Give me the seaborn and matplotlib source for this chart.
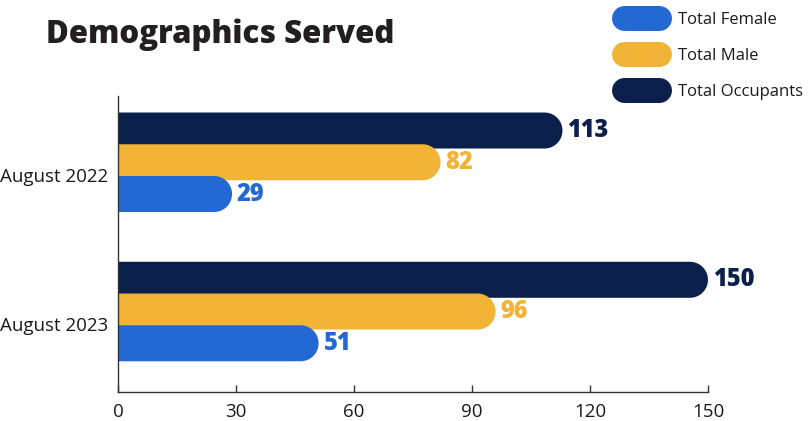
import numpy as np
import pandas as pd
import matplotlib.pyplot as plt
import seaborn as sns
from matplotlib.patches import Polygon
from matplotlib.lines import Line2D

# data
months = ["August 2022", "August 2023"]
total_occupants = [113, 150]
total_male = [82, 96]
total_female = [29, 51]
series_names = ["Total Occupants", "Total Male", "Total Female"]
series_colors = ["#0b1f4b", "#f2b436", "#2468d4"]
x_ticks = [0, 30, 60, 90, 120, 150]

df = pd.DataFrame({
    "month": months * 3,
    "series": [s for s in series_names for _ in months],
    "value": total_occupants + total_male + total_female,
})

sns.set_theme(style="white")
plt.rcParams["font.family"] = ["Open Sans", "DejaVu Sans"]

fig = plt.figure(figsize=(8.12, 4.21), dpi=100)
ax = fig.add_axes([0.1453, 0.0689, 0.7266, 0.7031])

sns.barplot(data=df, y="month", x="value", hue="series", hue_order=series_names,
            palette=series_colors, orient="h", width=0.638, saturation=1,
            errorbar=None, legend=False, ax=ax)

ax.set_xlim(0, 150)
ax.set_ylim(1.539, -0.444)
ax.set_xticks(x_ticks)
ax.set_xticklabels([str(t) for t in x_ticks])
ax.set_yticks([0.085, 1.085])
ax.set_yticklabels(months)
ax.set_xlabel("")
ax.set_ylabel("")
ax.tick_params(axis="x", direction="in", length=5, width=1, color="#333333",
               labelsize=13.5, pad=8, labelcolor="#1a1a1a", bottom=True)
ax.tick_params(axis="y", length=0, labelsize=13.5, pad=7, labelcolor="#1a1a1a")
for side in ["top", "right"]:
    ax.spines[side].set_visible(False)
for side in ["left", "bottom"]:
    ax.spines[side].set_color("#333333")
    ax.spines[side].set_linewidth(1)

# rounded right end on each bar
bar_h = 0.2412
fig.canvas.draw()
p0 = ax.transData.transform((0, 0))
px_per_x = abs(ax.transData.transform((1, 0))[0] - p0[0])
ry_px = abs(ax.transData.transform((0, bar_h / 2))[1] - p0[1])
rx = ry_px / px_per_x
ry = bar_h / 2

bars = list(ax.patches)
for p in bars:
    x0 = p.get_x()
    w = p.get_width()
    yc = p.get_y() + p.get_height() / 2
    fc = p.get_facecolor()
    p.remove()
    t = np.linspace(-np.pi / 2, np.pi / 2, 40)
    arc = np.column_stack([x0 + w - rx + rx * np.cos(t), yc + ry * np.sin(t)])
    pts = np.vstack([[x0, yc - ry], arc, [x0, yc + ry]])
    ax.add_patch(Polygon(pts, closed=True, facecolor=fc, edgecolor="none"))
    ax.annotate(f"{w:.0f}", xy=(x0 + w, yc), xytext=(3.5, 0), textcoords="offset points",
                ha="left", va="center", color=fc, fontsize=17, fontweight=800,
                family=["Open Sans", "DejaVu Sans"])

fig.text(46 / 812, 1 - 43 / 421, "Demographics Served", fontsize=22.5, fontweight=800,
         family=["Open Sans", "DejaVu Sans"], color="#231f20", va="baseline", ha="left")

handles = [Line2D([], [], color=c, lw=18, solid_capstyle="round")
           for c in series_colors[::-1]]
fig.legend(handles, series_names[::-1], loc="upper left",
           bbox_to_anchor=(623.5 / 812, 1 - 12 / 421), frameon=False,
           fontsize=12, handlelength=2.1, handletextpad=1.15, labelspacing=1.2,
           borderpad=0, borderaxespad=0, labelcolor="#1a1a1a")

fig.savefig("out.png", dpi=100)
